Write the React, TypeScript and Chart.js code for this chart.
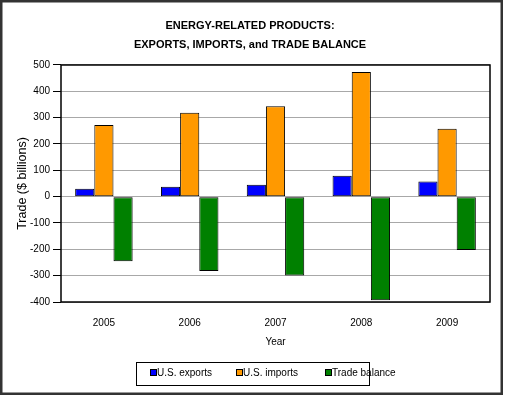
import React, { useEffect, useRef } from "react";
import { Chart, registerables } from "chart.js";

Chart.register(...registerables);

const years = ["2005", "2006", "2007", "2008", "2009"];
const exportsData = [30, 38, 45, 79, 58];
const importsData = [272, 319, 343, 473, 258];
const balanceData = [-245, -282, -299, -393, -203];
const seriesLabels = ["U.S. exports", "U.S. imports", "Trade balance"];
const seriesColors = ["#0000FF", "#FF9900", "#008000"];
const yTicks = [-400, -300, -200, -100, 0, 100, 200, 300, 400, 500];
const titleLines = ["ENERGY-RELATED PRODUCTS:", "EXPORTS, IMPORTS, and TRADE BALANCE"];

const FONT = "'Liberation Sans', Arial, sans-serif";

const framePlugin = {
  id: "frame",
  beforeDraw(chart: any) {
    const { ctx, width, height } = chart;
    if (chart.titleBlock) {
      chart.titleBlock.left = 4;
      chart.titleBlock.right = 496;
    }
    ctx.save();
    ctx.fillStyle = "#fff";
    ctx.fillRect(0, 0, width, height);
    ctx.restore();
  },
  afterDraw(chart: any) {
    const { ctx, chartArea } = chart;
    ctx.save();
    // plot area border
    ctx.strokeStyle = "#000";
    ctx.lineWidth = 1.5;
    ctx.strokeRect(chartArea.left, chartArea.top, chartArea.right - chartArea.left, chartArea.bottom - chartArea.top);
    // outer border
    ctx.strokeStyle = "#333";
    ctx.lineWidth = 2.5;
    ctx.strokeRect(1.25, 1.25, 500.5, 392.5);
    // legend
    const lx = 136, ly = 362.5, lw = 233, lh = 23;
    ctx.strokeStyle = "#000";
    ctx.lineWidth = 1;
    ctx.strokeRect(lx + 0.5, ly, lw, lh);
    const itemX = [150.5, 236.5, 325.5];
    ctx.font = "10px " + FONT;
    ctx.textBaseline = "middle";
    ctx.textAlign = "left";
    chart.data.datasets.forEach((ds: any, i: number) => {
      const x = itemX[i];
      ctx.fillStyle = ds.backgroundColor;
      ctx.fillRect(x, 369.5, 6, 6);
      ctx.strokeStyle = "#000";
      ctx.lineWidth = 1;
      ctx.strokeRect(x, 369.5, 6, 6);
      ctx.fillStyle = "#000";
      ctx.fillText(ds.label, x + 6.5, 373.5);
    });
    ctx.restore();
  },
};

export default function App() {
  const ref = useRef<HTMLCanvasElement>(null);
  useEffect(() => {
    document.body.style.margin = "0";
    const datasets = [exportsData, importsData, balanceData].map((d, i) => ({
      label: seriesLabels[i],
      data: d,
      backgroundColor: seriesColors[i],
      borderColor: "#000",
      borderWidth: 1,
      borderSkipped: false,
      categoryPercentage: 0.67,
      barPercentage: 1.0,
    }));
    const chart = new Chart(ref.current!, {
      type: "bar",
      data: { labels: years, datasets },
      options: {
        animation: false,
        responsive: false,
        layout: { padding: { left: 0, right: 16, top: 0, bottom: 46 } },
        plugins: {
          legend: { display: false },
          tooltip: { enabled: false },
          title: {
            display: true,
            text: titleLines,
            color: "#000",
            font: { family: FONT, size: 11, weight: "bold", lineHeight: 1.727 },
            padding: { top: 16, bottom: 11 },
          },
        },
        scales: {
          x: {
            grid: { display: false, drawTicks: false },
            border: { display: false },
            ticks: { color: "#000", font: { family: FONT, size: 10 }, padding: 15 },
            title: {
              display: true,
              text: "Year",
              color: "#000",
              font: { family: FONT, size: 10 },
              padding: { top: 0, bottom: 4 },
            },
            afterFit(scale: any) {
              scale.height = 50;
            },
          },
          y: {
            min: -400,
            max: 500,
            afterBuildTicks(scale: any) {
              scale.ticks = yTicks.map((v) => ({ value: v }));
            },
            grid: { color: "#a8a8a8", lineWidth: 1, tickLength: 8, tickColor: "#000" },
            border: { display: false },
            ticks: { color: "#000", font: { family: FONT, size: 10 }, padding: 3 },
            title: {
              display: true,
              text: "Trade ($ billions)",
              color: "#000",
              font: { family: FONT, size: 12.5 },
              padding: { top: 15, bottom: 0 },
            },
            afterFit(scale: any) {
              scale.width = 61;
            },
          },
        },
      },
      plugins: [framePlugin],
    });
    return () => chart.destroy();
  }, []);
  return <canvas ref={ref} width={506} height={398} style={{ display: "block" }} />;
}
